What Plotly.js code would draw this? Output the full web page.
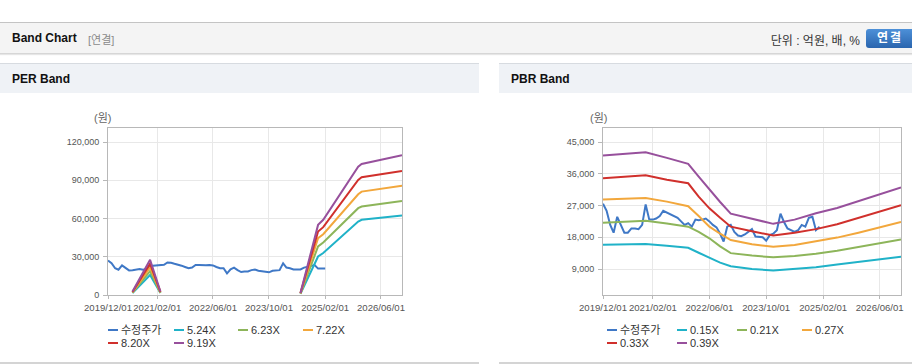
<!DOCTYPE html>
<html>
<head>
<meta charset="utf-8">
<script src="https://cdn.plot.ly/plotly-3.0.1.min.js"></script>
<style>
  html,body{margin:0;padding:0;background:#fff;}
  body{width:912px;height:364px;overflow:hidden;position:relative;font-family:"Liberation Sans","Noto Sans CJK KR",Arial,sans-serif;}
  #topbar{position:absolute;left:0;top:22px;width:912px;height:30px;background:#f4f4f4;border-top:1px solid #c4c4c4;border-bottom:1px solid #d6d6d6;box-shadow:0 1px 1px #e6e6e6;}
  #topbar .ttl{position:absolute;left:12px;top:8px;font-size:12px;font-weight:bold;color:#111;}
  #topbar .sub{position:absolute;left:88px;top:8px;font-size:11px;color:#8a8a8a;}
  #topbar .unit{position:absolute;right:52px;top:8px;font-size:12px;color:#333;}
  #topbar .btn{position:absolute;left:866px;top:6px;width:48px;height:19px;line-height:19px;border-radius:3px;background:linear-gradient(#4d90d8,#2a65ae);color:#fff;font-size:12px;font-weight:bold;text-align:center;letter-spacing:2px;}
  .phead{position:absolute;top:63px;height:29px;background:#eff2f6;border-top:1px solid #d7dbe0;}
  .phead span{position:absolute;left:12px;top:8px;font-size:12px;font-weight:bold;color:#111;}
  .pfoot{position:absolute;top:362px;height:2px;background:#d4d4d4;}
  .chart{position:absolute;top:95px;height:267px;}
</style>
</head>
<body>
<div id="topbar">
  <span class="ttl">Band Chart</span>
  <span class="sub">[연결]</span>
  <span class="unit">단위 : 억원, 배, %</span>
  <div class="btn">연결</div>
</div>
<div class="phead" style="left:0;width:479px;"><span>PER Band</span></div>
<div class="phead" style="left:499px;width:413px;"><span>PBR Band</span></div>
<div id="per" class="chart" style="left:0;width:479px;"></div>
<div id="pbr" class="chart" style="left:499px;width:413px;"></div>
<div class="pfoot" style="left:0;width:479px;"></div>
<div class="pfoot" style="left:499px;width:413px;"></div>
<script>
// ---------------- DATA ----------------
const priceDates = [
  '2019-12',
  '2020-01','2020-02','2020-03','2020-04','2020-05','2020-06','2020-07','2020-08','2020-09','2020-10','2020-11','2020-12',
  '2021-01','2021-02','2021-03','2021-04','2021-05','2021-06','2021-07','2021-08','2021-09','2021-10','2021-11','2021-12',
  '2022-01','2022-02','2022-03','2022-04','2022-05','2022-06','2022-07','2022-08','2022-09','2022-10','2022-11','2022-12',
  '2023-01','2023-02','2023-03','2023-04','2023-05','2023-06','2023-07','2023-08','2023-09','2023-10','2023-11','2023-12',
  '2024-01','2024-02','2024-03','2024-04','2024-05','2024-06','2024-07','2024-08','2024-09','2024-10','2024-11','2024-12',
  '2025-01','2025-02'
];
const perPrice = [
  27100,25000,21000,19800,23200,21500,19300,19500,20000,20300,19800,20500,
  22700,23000,23200,23500,23700,25500,25300,24500,24000,23000,22000,21000,
  21500,23500,23500,23300,23300,23500,23200,22000,21000,21000,17000,20200,
  21500,19500,18000,18500,18500,19500,20000,19000,18500,18000,17800,19000,
  19000,19500,24800,21500,21000,20000,20000,20000,21500,22000,22500,23500,
  20700,20700,20700
];
const pbrPrice = [
  27500,25500,21500,19300,23800,21500,19300,19300,20500,20500,20300,21500,
  27300,23000,23000,23300,24000,25500,25000,24500,24200,23500,22500,21500,
  22000,21000,23000,22800,23000,23300,22500,21500,20800,19000,16800,21000,
  21500,19500,18500,18300,18800,19500,20300,18200,18200,18000,17000,18600,
  19000,20000,24700,22400,20500,20000,19500,20000,21500,21000,23500,23800,
  20000,21000
];

const perBandDates = ['2020-07-01','2020-12-01','2021-03-01','2022-12-01','2024-07-01','2024-12-01','2025-01-15','2025-11-15','2025-12-15','2026-12-01'];
const perBand524 = [1500,15700,1500,null,1000,30200,32900,57600,59000,62300];
const perBand623 = [1800,18700,1800,null,1100,38100,41200,68100,69400,73800];
const perBand722 = [2100,21700,2100,null,1300,44600,47700,79000,81100,85800];
const perBand820 = [2400,24600,2400,null,1500,49800,53200,90300,92400,97300];
const perBand919 = [2700,27600,2700,null,1600,55000,59000,100700,102800,109600];

const pbrBandDates = ['2019-12-01','2020-06-01','2020-12-01','2021-06-01','2021-12-01','2022-03-01','2022-06-01','2022-09-01','2022-12-01','2023-06-01','2023-12-01','2024-06-01','2024-12-01','2025-06-01','2025-12-01','2026-06-01','2026-12-01'];
const pbrBand015 = [15900,16000,16100,15600,15000,13600,12100,10800,9800,9000,8600,9000,9500,10300,11000,11800,12500];
const pbrBand021 = [22100,22400,22700,21900,21000,19500,17700,15400,13500,12800,12300,12700,13300,14200,15200,16300,17400];
const pbrBand027 = [28700,28900,29100,28100,26800,24000,21000,19000,17200,16000,15300,15800,16800,17900,19300,20800,22300];
const pbrBand033 = [34700,35100,35600,34300,33300,29500,26200,23500,21000,19700,18500,19300,20300,21700,23500,25300,27100];
const pbrBand039 = [41200,41600,42100,40500,38800,35200,31500,28000,24700,23200,21800,23000,24800,26300,28300,30200,32100];

const perLabels = ['수정주가','5.24X','6.23X','7.22X','8.20X','9.19X'];
const pbrLabels = ['수정주가','0.15X','0.21X','0.27X','0.33X','0.39X'];
const xTickVals = ['2019-12-01','2021-02-01','2022-06-01','2023-10-01','2025-02-01','2026-06-01'];
const xTickText = ['2019/12/01','2021/02/01','2022/06/01','2023/10/01','2025/02/01','2026/06/01'];
const perYTicks = [0,30000,60000,90000,120000];
const pbrYTicks = [9000,18000,27000,36000,45000];
const yUnitLabel = '(원)';

// ---------------- STYLE ----------------
const COLORS = ['#3f78c6','#20b2c8','#8db55a','#f2a73c','#d0302c','#97509c'];
const FONT = 'Liberation Sans, Noto Sans CJK KR, Arial, sans-serif';

function build(divId, spec) {
  const W = spec.width, H = 267;
  const m = spec.margin;
  const pw = W - m.l - m.r, ph = H - m.t - m.b;
  const px = dx => (dx - m.l) / pw;
  const py = dy => 1 - (dy - m.t) / ph;

  const traces = [];
  traces.push({x: spec.priceX, y: spec.priceY, type:'scatter', mode:'lines',
    line:{color:COLORS[0], width:2}, name: spec.labels[0], connectgaps:false});
  spec.bands.forEach((b, i) => {
    traces.push({x: spec.bandX, y: b, type:'scatter', mode:'lines',
      line:{color:COLORS[i+1], width:2}, name: spec.labels[i+1], connectgaps:false});
  });

  const shapes = [], annotations = [];
  spec.legendPos.forEach((p, i) => {
    const dx = p[0] - spec.left, dy = p[1] - 95;
    shapes.push({type:'line', xref:'paper', yref:'paper', layer:'above',
      x0: px(dx), x1: px(dx + 10), y0: py(dy), y1: py(dy),
      line:{color:COLORS[i], width:2}});
    annotations.push({xref:'paper', yref:'paper', x: px(dx + 12), y: py(dy),
      xanchor:'left', yanchor:'middle', showarrow:false, text: spec.labels[i],
      font:{family:FONT, size:11, color:'#333'}, borderpad:0});
  });
  annotations.push({xref:'paper', yref:'paper', x: px(spec.unitX - spec.left), y: py(118.3 - 95),
    xanchor:'center', yanchor:'middle', showarrow:false, text: yUnitLabel,
    font:{family:FONT, size:11, color:'#666'}});

  const layout = {
    width: W, height: H,
    margin: m,
    paper_bgcolor:'rgba(0,0,0,0)', plot_bgcolor:'#fff',
    showlegend:false,
    font:{family:FONT, size:9, color:'#555'},
    xaxis:{type:'date', range:['2019-12-01','2026-12-01'], tickvals:xTickVals, ticktext:xTickText,
      tickangle:0,
      showgrid:true, gridcolor:'#e8e8e8', gridwidth:1, zeroline:false,
      showline:true, linecolor:'#b8b8b8', linewidth:1, mirror:true,
      ticks:'outside', ticklen:3, tickcolor:'#b8b8b8',
      tickfont:{family:FONT, size:9.6, color:'#555'}, fixedrange:true},
    yaxis:{range: spec.yRange, tickvals: spec.yTicks, tickformat:',d',
      showgrid:true, gridcolor:'#e8e8e8', gridwidth:1, zeroline:false,
      showline:true, linecolor:'#b8b8b8', linewidth:1, mirror:true,
      ticks:'outside', ticklen:4, tickcolor:'#b8b8b8', ticklabelstandoff:2,
      tickfont:{family:FONT, size:9, color:'#555'}, fixedrange:true},
    shapes, annotations
  };
  Plotly.newPlot(divId, traces, layout, {staticPlot:true, displayModeBar:false});
}

build('per', {
  width:479, left:0, margin:{l:108, r:77, t:33, b:67},
  priceX: priceDates, priceY: perPrice,
  bandX: perBandDates, bands:[perBand524, perBand623, perBand722, perBand820, perBand919],
  labels: perLabels, yRange:[0,131000], yTicks: perYTicks, unitX: 102.5,
  legendPos: [[108,330],[174,330],[238,330],[303,330],[108,343],[174,343]]
});
build('pbr', {
  width:413, left:499, margin:{l:104, r:11, t:33, b:67},
  priceX: priceDates.slice(0, pbrPrice.length), priceY: pbrPrice,
  bandX: pbrBandDates, bands:[pbrBand015, pbrBand021, pbrBand027, pbrBand033, pbrBand039],
  labels: pbrLabels, yRange:[1630,48970], yTicks: pbrYTicks, unitX: 598.3,
  legendPos: [[607,330],[677,330],[737,330],[802,330],[607,343],[677,343]]
});
</script>
</body>
</html>
